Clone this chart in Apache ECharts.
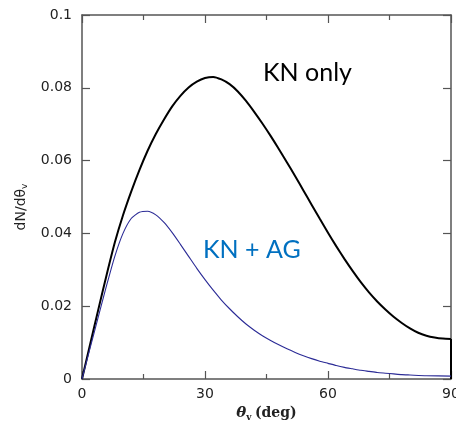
<!DOCTYPE html>
<html><head><meta charset="utf-8">
<script src="https://cdn.jsdelivr.net/npm/echarts@6/dist/echarts.min.js"></script>
<style>html,body{margin:0;padding:0;background:#fff}#c{width:456px;height:422px}</style>
</head><body><div id="c"></div>
<script>
const knTheta = [0,2,4,6,8,10,12,14,16,18,20,22,24,26,28,30,32,34,36,38,40,42,44,46,48,50,52,54,56,58,60,62,64,66,68,70,72,74,76,78,80,82,84,86,88,90];
const knVals  = [0,0.0096,0.0192,0.0286,0.0375,0.0450,0.0515,0.0574,0.0627,0.0673,0.0713,0.0749,0.0778,0.0801,0.0817,0.0827,0.0830,0.0823,0.0810,0.0790,0.0764,0.0734,0.0702,0.0668,0.0632,0.0595,0.0557,0.0518,0.0479,0.0440,0.0402,0.0365,0.0330,0.0297,0.0266,0.0238,0.0213,0.0191,0.0171,0.0154,0.0139,0.0127,0.0119,0.0114,0.0111,0.0110];
const knEdgeTheta = [90,90];
const knEdgeVals  = [0.0110,0];
const agTheta = [0,2,4,6,8,10,12,14,16,18,20,22,24,26,28,30,32,34,36,38,40,42,44,46,48,50,52,54,56,58,60,62,64,66,68,70,72,74,76,78,80,84,90];
const agVals  = [0,0.0086,0.0172,0.0257,0.0337,0.0400,0.0441,0.0458,0.0461,0.0451,0.0430,0.0402,0.0370,0.0337,0.0304,0.0273,0.0244,0.0217,0.0193,0.0171,0.0151,0.0134,0.0119,0.0106,0.0094,0.0083,0.0073,0.0064,0.0056,0.0049,0.0043,0.0037,0.0032,0.0028,0.0024,0.0021,0.0018,0.0016,0.0014,0.0012,0.0011,0.0009,0.0008];
const xTicks = [0,30,60,90];
const yTicks = [0,0.02,0.04,0.06,0.08,0.1];
const labelKN = 'KN only';
const labelAG = 'KN + AG';

const axisCol = '#555';
const chart = echarts.init(document.getElementById('c'));
const mkX = (show, pos) => ({
  type:'value', min:0, max:90, interval:30, position:pos,
  axisLine:{show:true, onZero:false, lineStyle:{color:axisCol, width:1.5}},
  axisTick:{show:true, inside:true, length:8, lineStyle:{color:axisCol, width:1.2}},
  minorTick:{show:true, splitNumber:2, length:5, lineStyle:{color:axisCol, width:1.2}},
  splitLine:{show:false},
  axisLabel:{show:show, color:'#222', fontFamily:'DejaVu Sans', fontSize:14, margin:8,
    formatter: v => xTicks.includes(v) ? String(v) : ''}
});
const mkY = (show, pos) => ({
  type:'value', min:0, max:0.1, interval:0.02, position:pos,
  axisLine:{show:true, onZero:false, lineStyle:{color:axisCol, width:1.5}},
  axisTick:{show:true, inside:true, length:8, lineStyle:{color:axisCol, width:1.2}},
  splitLine:{show:false},
  axisLabel:{show:show, color:'#222', fontFamily:'DejaVu Sans', fontSize:14, margin:10,
    formatter: v => { const t = yTicks.find(k => Math.abs(k-v)<1e-9); return t===undefined ? '' : String(t); }}
});
const xb = mkX(true,'bottom');
xb.name = '{t|θ}{s|v} {d|(deg)}';
xb.nameLocation = 'middle'; xb.nameGap = 22;
xb.nameTextStyle = {rich:{
  t:{fontFamily:'DejaVu Serif', fontWeight:'bold', fontStyle:'italic', fontSize:15, color:'#222'},
  s:{fontFamily:'DejaVu Serif', fontWeight:'bold', fontSize:9, color:'#222', padding:[9,0,0,0]},
  d:{fontFamily:'DejaVu Serif', fontWeight:'bold', fontSize:14, color:'#222'}}};

chart.setOption({
  animation:false,
  grid:{left:82, right:5, top:15, bottom:43, containLabel:false, outerBoundsMode:'none'},
  xAxis:[xb, mkX(false,'top')],
  yAxis:[mkY(true,'left'), mkY(false,'right')],
  series:[
    {type:'line', data:knTheta.map((t,i)=>[t,knVals[i]]), showSymbol:false, smooth:0.2,
     lineStyle:{color:'#000', width:2}, z:3},
    {type:'line', data:knEdgeTheta.map((t,i)=>[t,knEdgeVals[i]]), showSymbol:false,
     lineStyle:{color:'#000', width:2}, z:3},
    {type:'line', data:agTheta.map((t,i)=>[t,agVals[i]]), showSymbol:false, smooth:0.2,
     lineStyle:{color:'#2b2b96', width:1.1}, z:4}
  ],
  graphic:[
    {type:'text', x:21, y:207, rotation:Math.PI/2,
     style:{text:'{t|dN/dθ}{s|v}', align:'center', verticalAlign:'middle',
       rich:{t:{fontFamily:'DejaVu Sans', fontSize:14, fill:'#222'},
             s:{fontFamily:'DejaVu Sans', fontSize:9, fill:'#222', padding:[7,0,0,0]}}}},
    {type:'text', left:263, top:60, style:{text:labelKN, fill:'#000', font:'25px Lato'}},
    {type:'text', left:203, top:237, style:{text:labelAG, fill:'#0070c0', font:'25px Lato'}}
  ]
});
</script></body></html>
